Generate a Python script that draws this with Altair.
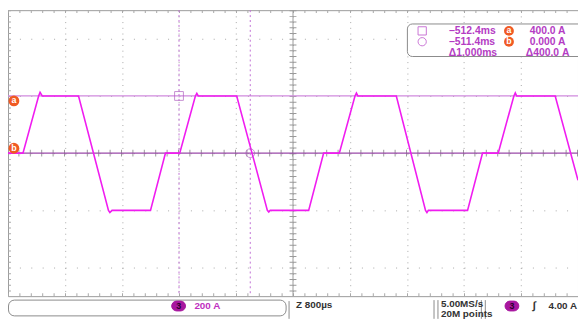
import altair as alt
import pandas as pd

# ---- data (time in ms, current in A) ----
time_ms = [-514.80, -514.59, -514.37, -514.35, -514.32, -513.81, -513.39, -513.37, -513.34,
           -512.80, -512.59, -512.39, -512.17, -512.15, -512.13, -511.59, -511.16, -511.14,
           -511.12, -510.58, -510.37, -510.15, -509.93, -509.91, -509.89, -509.35, -508.94,
           -508.92, -508.90, -508.35, -508.14, -507.92, -507.70, -507.68, -507.66, -507.12,
           -506.80]
current_a = [0, 0, 400, 425, 400, 400, -400, -415, -400,
             -400, 0, 0, 400, 418, 400, 400, -400, -412,
             -400, -400, 0, 0, 400, 420, 400, 400, -400,
             -415, -400, -400, 0, 0, 400, 422, 400, 400,
             -190]

cursor_times = [-512.4, -511.4]
cursor_levels = [400.0, 0.0]
x_grid = [-514.0, -513.2, -512.4, -511.6, -510.8, -510.0, -509.2, -508.4, -507.6]
y_grid = [-800, -600, -400, -200, 0, 200, 400, 600, 800]
x_center = [-510.8]
y_center = [0]

readout_time = ["\u2212512.4ms", "\u2212511.4ms", "\u03941.000ms"]
readout_amp = ["400.0 A", "0.000 A", "\u0394400.0 A"]

TRACE = "#f01cf0"
PURPLE = "#b43cc4"
ORANGE = "#f05a23"
GRIDC = "#a8a8a8"
FONT = "Liberation Sans"

W, H = 578, 290
one = pd.DataFrame({"k": [0]})

xs = alt.Scale(domain=[-514.8, -506.8], nice=False, zero=False)
ys = alt.Scale(domain=[-1000, 1000], nice=False, zero=False)

trace_df = pd.DataFrame({"t": time_ms, "i": current_a})

grid = alt.Chart(trace_df).mark_line(opacity=0).encode(
    x=alt.X("t:Q", scale=xs, axis=alt.Axis(values=x_grid, grid=True, gridDash=[1, 4.8],
                                           gridColor=GRIDC, labels=False, ticks=False,
                                           domain=False, title=None)),
    y=alt.Y("i:Q", scale=ys, axis=alt.Axis(values=y_grid, grid=True, gridDash=[1, 10.56],
                                           gridColor=GRIDC, labels=False, ticks=False,
                                           domain=False, title=None)),
)

def vrule(x, y1, y2, color, width=1, dash=None):
    kw = dict(color=color, strokeWidth=width)
    if dash:
        kw["strokeDash"] = dash
    return alt.Chart(one).mark_rule(**kw).encode(x=alt.value(x), y=alt.value(y1), y2=alt.value(y2))

def hrule(y, x1, x2, color, width=1, dash=None):
    kw = dict(color=color, strokeWidth=width)
    if dash:
        kw["strokeDash"] = dash
    return alt.Chart(one).mark_rule(**kw).encode(y=alt.value(y), x=alt.value(x1), x2=alt.value(x2))

def txt(s, x, y, color="#333", size=10, weight="bold", align="left", font=FONT):
    return alt.Chart(one).mark_text(text=s, color=color, fontSize=size, fontWeight=weight,
                                    align=align, baseline="middle", font=font).encode(
        x=alt.value(x), y=alt.value(y))

def box(x1, x2, y1, y2, fill="white", stroke="#8a8a8a", radius=5, sw=1):
    return alt.Chart(one).mark_rect(fill=fill, stroke=stroke, strokeWidth=sw, cornerRadius=radius).encode(
        x=alt.value(x1), x2=alt.value(x2), y=alt.value(y1), y2=alt.value(y2))

# border minor ticks
border_ticks = [
    hrule(1.5, 0, W, GRIDC, 3, [1, 10.56]),
    hrule(H - 1.5, 0, W, GRIDC, 3, [1, 10.56]),
    vrule(1.5, 0, H, GRIDC, 3, [1, 4.8]),
]

cx = alt.Chart(pd.DataFrame({"t": x_center}))
cy = alt.Chart(pd.DataFrame({"i": y_center}))
center = [
    cx.mark_rule(color="#9a9a9a", strokeWidth=1).encode(x=alt.X("t:Q", scale=xs)),
    cx.mark_rule(color="#9a9a9a", strokeWidth=7, strokeDash=[1, 4.8]).encode(x=alt.X("t:Q", scale=xs)),
    cy.mark_rule(color="#9a9a9a", strokeWidth=7, strokeDash=[1, 10.56]).encode(y=alt.Y("i:Q", scale=ys)),
]

# cursors
cur_v = alt.Chart(pd.DataFrame({"t": cursor_times})).mark_rule(
    color="#c070d4", strokeWidth=1, strokeDash=[2, 3]).encode(x=alt.X("t:Q", scale=xs))
cur_a = alt.Chart(pd.DataFrame({"i": [cursor_levels[0]]})).mark_rule(
    color="#d08ade", strokeWidth=1.3).encode(y=alt.Y("i:Q", scale=ys))
cur_b = alt.Chart(pd.DataFrame({"i": [cursor_levels[1]]})).mark_rule(
    color="#9a4aa8", strokeWidth=1.3).encode(y=alt.Y("i:Q", scale=ys))

trace = alt.Chart(trace_df).mark_line(color=TRACE, strokeWidth=1.6).encode(
    x=alt.X("t:Q", scale=xs), y=alt.Y("i:Q", scale=ys))

mk_sq = alt.Chart(pd.DataFrame({"t": [cursor_times[0]], "i": [cursor_levels[0]]})).mark_point(
    shape="square", size=80, filled=False, color="#b060c0", strokeWidth=1).encode(
    x=alt.X("t:Q", scale=xs), y=alt.Y("i:Q", scale=ys))
mk_ci = alt.Chart(pd.DataFrame({"t": [cursor_times[1]], "i": [cursor_levels[1]]})).mark_point(
    shape="circle", size=80, filled=False, color="#b060c0", strokeWidth=1).encode(
    x=alt.X("t:Q", scale=xs), y=alt.Y("i:Q", scale=ys))

def badge(x, y, letter, size=120):
    return [alt.Chart(one).mark_circle(color=ORANGE, opacity=1, size=size).encode(x=alt.value(x), y=alt.value(y)),
            txt(letter, x, y - 0.5, "white", 9, "bold", "center")]

badges = badge(6, 92, "a") + badge(6, 140, "b")

# readout box (top right)
readout = [box(405, 592, 14, 47, radius=5)]
readout.append(alt.Chart(one).mark_point(shape="square", size=70, filled=False, color=PURPLE, strokeWidth=1)
               .encode(x=alt.value(420), y=alt.value(21)))
readout.append(alt.Chart(one).mark_point(shape="circle", size=70, filled=False, color=PURPLE, strokeWidth=1)
               .encode(x=alt.value(420), y=alt.value(32)))
for k, yy in enumerate([21, 32, 43]):
    readout.append(txt(readout_time[k], 447, yy, PURPLE, 10.5))
    readout.append(txt(readout_amp[k], 529 if k < 2 else 525, yy, PURPLE, 10.5))
readout += badge(508, 21, "a", 100) + badge(508, 32, "b", 100)

# bottom status bar
by = 300
bottom = [
    box(0.5, 282, 294, 310, radius=6),
    box(166, 180, 295, 305, fill="#a8179f", stroke="#a8179f", radius=5),
    txt("3", 173, by, "#2a0030", 9, "bold", "center"),
    txt("200 A", 189, by, "#c030c0", 10),
    vrule(285, 295, 313, "#8a8a8a"),
    vrule(432, 294, 313, "#8a8a8a"),
    vrule(436, 294, 313, "#8a8a8a"),
    vrule(480, 294, 313, "#8a8a8a"),
    vrule(484, 294, 313, "#8a8a8a"),
    txt("Z 800\u00b5s", 292, by - 1, "#333", 10),
    txt("5.00MS/s", 439, by - 2, "#333", 10),
    txt("20M points", 439, by + 8, "#333", 10),
    box(504, 518, 295, 305, fill="#a8179f", stroke="#a8179f", radius=5),
    txt("3", 511, by, "#2a0030", 9, "bold", "center"),
    txt("\u222b", 532, by, "#333", 11),
    txt("4.00 A", 548, by, "#333", 10),
]

layers = [grid] + border_ticks + center + readout + [cur_a, cur_b, cur_v, trace, mk_sq, mk_ci] + badges + bottom

chart = alt.layer(*layers).properties(
    width=W, height=H,
    padding={"left": 0, "top": 0, "right": 0, "bottom": 23},
    autosize=alt.AutoSizeParams(type="none"),
    background="white",
).configure_view(stroke="#9a9a9a", strokeWidth=1)

chart.save("out.html", embed_options={"renderer": "svg", "actions": False})
